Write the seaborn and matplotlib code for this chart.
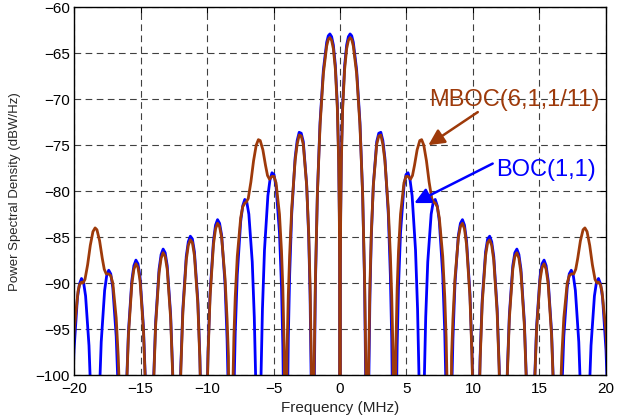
import numpy as np
import pandas as pd
import matplotlib
matplotlib.use('Agg')
import matplotlib.pyplot as plt
import seaborn as sns

# --- values (positive half, the spectrum is symmetric) ---
# nulls that drop below the axis are given as -140 and get clipped by the ylim
freq_boc_pos = [
    0.0, 0.02, 0.05, 0.1, 0.2, 0.35, 0.5, 0.63, 0.76, 0.88, 1.0, 1.25, 1.5, 1.7, 1.85, 1.95, 2.046,
    2.148, 2.251, 2.353, 2.506, 2.762, 2.916, 3.069, 3.222, 3.376, 3.632, 3.785, 3.887, 3.990, 4.092,
    4.194, 4.297, 4.399, 4.552, 4.808, 4.962, 5.115, 5.268, 5.422, 5.678, 5.831, 5.933, 6.036, 6.138,
    6.240, 6.342, 6.445, 6.598, 6.854, 7.008, 7.161, 7.314, 7.468, 7.724, 7.877, 7.980,
    8.388, 8.491, 8.644, 8.900, 9.054, 9.207, 9.360, 9.514, 9.770, 9.923, 10.025,
    10.434, 10.537, 10.690, 10.946, 11.100, 11.253, 11.406, 11.560, 11.816, 11.969, 12.071,
    12.481, 12.583, 12.736, 12.992, 13.146, 13.299, 13.452, 13.606, 13.862, 14.015, 14.117,
    14.527, 14.629, 14.782, 15.038, 15.192, 15.345, 15.498, 15.652, 15.908, 16.061, 16.163,
    16.573, 16.675, 16.828, 17.084, 17.238, 17.391, 17.544, 17.698, 17.954, 18.107, 18.209,
    18.619, 18.721, 18.874, 19.130, 19.284, 19.437, 19.590, 19.744, 20.0, 20.153,
]
psd_boc_pos = [
    -140, -90.4, -82.4, -76.4, -70.6, -66.3, -64.1, -63.2, -62.9, -63.1, -63.8, -66.8, -72.5, -80.2, -90.2, -103.0, -140,
    -102.7, -91.3, -85.0, -79.3, -74.6, -73.7, -73.6, -74.5, -76.4, -82.5, -89.1, -96.0, -108.0, -140,
    -108.5, -96.9, -90.4, -84.5, -79.5, -78.2, -78.0, -78.8, -80.5, -86.4, -92.8, -99.7, -111.6, -140,
    -111.9, -100.3, -93.7, -87.7, -82.5, -81.2, -80.9, -81.6, -83.3, -89.1, -95.4, -102.2,
    -102.7, -96.1, -90.1, -84.8, -83.5, -83.1, -83.7, -85.4, -91.1, -97.5, -104.2,
    -104.6, -98.0, -91.9, -86.6, -85.2, -84.9, -85.5, -87.1, -92.8, -99.1, -105.9,
    -106.2, -99.5, -93.4, -88.1, -86.7, -86.3, -86.9, -88.5, -94.2, -100.5, -106.6,
    -107.4, -100.8, -94.7, -89.3, -87.9, -87.5, -88.1, -89.7, -95.3, -101.6, -108.4,
    -108.6, -101.9, -95.8, -90.5, -89.0, -88.6, -89.2, -90.8, -96.4, -102.7, -109.5,
    -109.5, -102.9, -96.8, -91.4, -89.9, -89.5, -90.1, -91.6, -97.3, -103.5,
]

freq_mboc_pos = [
    0.0, 0.02, 0.05, 0.1, 0.2, 0.35, 0.5, 0.63, 0.76, 0.88, 1.0, 1.25, 1.5, 1.7, 1.85, 1.95, 2.046,
    2.148, 2.251, 2.353, 2.506, 2.762, 2.916, 3.069, 3.222, 3.376, 3.632, 3.785, 3.887, 3.990, 4.092,
    4.194, 4.297, 4.399, 4.552, 4.808, 4.962, 5.115, 5.3, 5.45, 5.6, 5.8, 6.0, 6.138, 6.3, 6.5, 6.7,
    6.9, 7.05, 7.161, 7.314, 7.468, 7.724, 7.877, 7.980, 8.08, 8.184,
    8.388, 8.491, 8.644, 8.900, 9.054, 9.207, 9.360, 9.514, 9.770, 9.923, 10.025,
    10.434, 10.537, 10.690, 10.946, 11.100, 11.253, 11.406, 11.560, 11.816, 11.969, 12.071,
    12.481, 12.583, 12.736, 12.992, 13.146, 13.299, 13.452, 13.606, 13.862, 14.015, 14.117,
    14.527, 14.629, 14.782, 15.038, 15.192, 15.345, 15.498, 15.652, 15.908, 16.061, 16.163,
    16.573, 16.675, 16.828, 17.084, 17.238, 17.391, 17.576, 17.726, 17.876, 18.076, 18.276, 18.414,
    18.576, 18.776, 18.976, 19.176, 19.326, 19.437, 19.590, 19.700, 20.0, 20.153,
]
psd_mboc_pos = [
    -140, -90.8, -82.8, -76.8, -71.0, -66.7, -64.5, -63.6, -63.3, -63.5, -64.2, -67.2, -72.85, -80.3, -89.6, -99.6, -140,
    -99.1, -90.2, -84.6, -79.4, -74.9, -74.0, -73.9, -74.9, -76.7, -81.9, -86.9, -91.3, -97.8, -140,
    -97.4, -90.6, -86.5, -82.5, -79.1, -78.4, -78.4, -78.7, -78.3, -77.2, -75.5, -74.5, -74.4, -75.0, -76.7, -79.0,
    -80.8, -81.2, -81.3, -81.7, -82.9, -87.1, -91.5, -95.9, -103.0, -140,
    -98.0, -93.9, -89.5, -85.05, -83.85, -83.5, -84.1, -85.8, -91.5, -97.9, -104.6,
    -105.0, -98.4, -92.3, -87.0, -85.6, -85.3, -85.9, -87.5, -93.2, -99.5, -106.3,
    -106.6, -99.9, -93.8, -88.5, -87.1, -86.7, -87.3, -88.9, -94.6, -100.9, -107.0,
    -107.8, -101.2, -95.1, -89.7, -88.3, -87.9, -88.5, -90.1, -95.7, -102.0, -108.8,
    -102.3, -98.0, -93.8, -90.0, -89.2, -89.0, -89.0, -88.5, -87.3, -85.4, -84.2, -84.0,
    -84.4, -85.9, -88.0, -89.6, -90.0, -89.9, -90.2, -90.9, -95.3, -99.7,
]

x_ticks = [-20, -15, -10, -5, 0, 5, 10, 15, 20]
y_ticks = [-100, -95, -90, -85, -80, -75, -70, -65, -60]

BLUE = '#0000FF'
BROWN = '#9E3A0A'


def mirror(freq, psd):
    # spectrum is even in frequency: reuse the read values for the negative side
    freq = np.asarray(freq, dtype=float)
    psd = np.asarray(psd, dtype=float)
    return np.concatenate([-freq[:0:-1], freq]), np.concatenate([psd[:0:-1], psd])


f_boc, p_boc = mirror(freq_boc_pos, psd_boc_pos)
f_mboc, p_mboc = mirror(freq_mboc_pos, psd_mboc_pos)

df = pd.concat([
    pd.DataFrame({'freq': f_boc, 'psd': p_boc, 'signal': 'BOC(1,1)'}),
    pd.DataFrame({'freq': f_mboc, 'psd': p_mboc, 'signal': 'MBOC(6,1,1/11)'}),
], ignore_index=True)

# --- plot ---
sns.set_style('white')
plt.rcParams['font.family'] = ['Liberation Sans', 'DejaVu Sans']

fig = plt.figure(figsize=(6.23, 4.19), dpi=100)
ax = fig.add_axes([0.1188, 0.105, 0.8539, 0.8776])

sns.lineplot(data=df, x='freq', y='psd', hue='signal',
             palette={'BOC(1,1)': BLUE, 'MBOC(6,1,1/11)': BROWN},
             hue_order=['BOC(1,1)', 'MBOC(6,1,1/11)'],
             estimator=None, sort=False, lw=2.0, legend=False, ax=ax)

ax.set_xlim(-20, 20)
ax.set_ylim(-100, -60)
ax.set_xticks(x_ticks)
ax.set_yticks(y_ticks)
ax.grid(True, color='#404040', lw=0.8, linestyle=(0, (6, 4)))
ax.tick_params(direction='in', length=4, width=0.8, top=True, right=True,
               labelsize=11, colors='black')
ax.tick_params(axis='x', pad=5)
ax.tick_params(axis='y', pad=3)
for sp in ax.spines.values():
    sp.set_color('black')
    sp.set_linewidth(1.0)

ax.set_xlabel('Frequency (MHz)', fontsize=11)
ax.set_ylabel('Power Spectral Density (dBW/Hz)', fontsize=9.5)
ax.xaxis.set_label_coords(0.5, -0.07)
ax.yaxis.set_label_coords(-0.100, 0.5)

# labels and arrows
ax.text(13.08, -70.1, 'MBOC(6,1,1/11)', color=BROWN, fontsize=17, ha='center', va='center')
ax.text(15.5, -77.7, 'BOC(1,1)', color=BLUE, fontsize=17, ha='center', va='center')
ax.annotate('', xy=(6.64, -75.0), xytext=(10.36, -71.4),
            arrowprops=dict(arrowstyle='-|>', color=BROWN, lw=1.8, mutation_scale=24,
                            shrinkA=0, shrinkB=0))
ax.annotate('', xy=(5.59, -81.3), xytext=(11.48, -77.0),
            arrowprops=dict(arrowstyle='-|>', color=BLUE, lw=1.8, mutation_scale=24,
                            shrinkA=0, shrinkB=0))

fig.savefig('out.png', dpi=100)
